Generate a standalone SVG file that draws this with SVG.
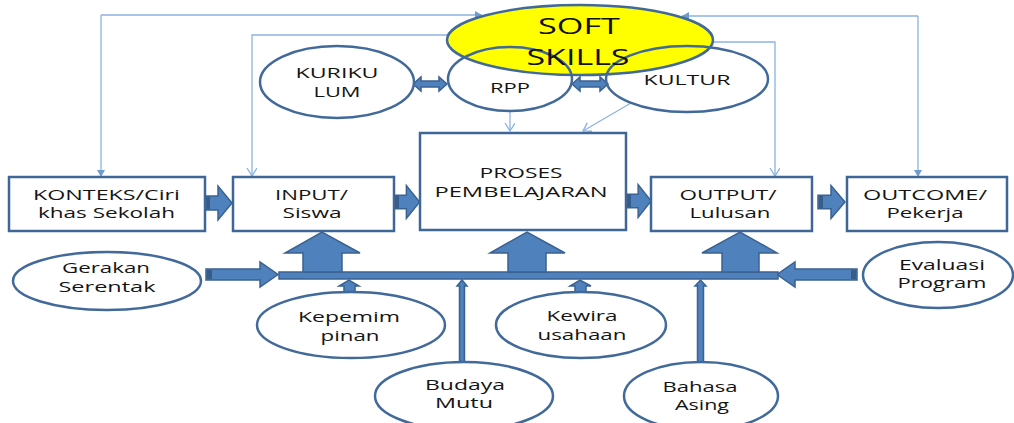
<svg xmlns="http://www.w3.org/2000/svg" width="1014" height="423" viewBox="0 0 1014 423">
<style>
.bg{fill:#ffffff}
.box{fill:#ffffff;stroke:#3e6796;stroke-width:2.5}
.ell{fill:#ffffff;stroke:#41699a;stroke-width:2.5}
.ellf{fill:none;stroke:#41699a;stroke-width:2.5}
.soft{fill:#ffff00;stroke:#41699a;stroke-width:2.5}
.t{font-family:"Open Sans","Liberation Sans",sans-serif;font-size:15px;fill:#141414;text-anchor:middle}
.ts{font-family:"Open Sans","Liberation Sans",sans-serif;font-size:22px;fill:#111;text-anchor:middle}
.thin{fill:none;stroke:#8db3e2;stroke-width:1.3}
.blk{fill:#4f81bd;stroke:#3a6291;stroke-width:1.5}
.dk{fill:#385d8a}
</style>
<defs>
<marker id="tri" markerUnits="userSpaceOnUse" markerWidth="10" markerHeight="10" refX="7" refY="4" orient="auto">
<path d="M0,0 L7,4 L0,8 Z" fill="#6f9bd0"/>
</marker>
<marker id="vee" markerUnits="userSpaceOnUse" markerWidth="12" markerHeight="12" refX="8" refY="5" orient="auto">
<path d="M0,0 L8,5 L0,10" fill="none" stroke="#8db3e2" stroke-width="1.3"/>
</marker>
<path id="ra" d="M0,-7 H13 V-17 L27,0 L13,17 V7 H0 Z"/>
</defs>
<rect class="bg" x="0" y="0" width="1014" height="423"/>

<g id="connectors">
<polyline class="thin" points="101,15 482,15" marker-end="url(#tri)"/>
<polyline class="thin" points="101,15 101,177" marker-end="url(#tri)"/>
<polyline class="thin" points="450,35 252,35 252,176" marker-end="url(#vee)"/>
<polyline class="thin" points="918,16 682,16" marker-end="url(#tri)"/>
<polyline class="thin" points="918,16 918,177" marker-end="url(#tri)"/>
<polyline class="thin" points="713,42 775,42 775,176" marker-end="url(#vee)"/>
<line class="thin" x1="510" y1="111" x2="510" y2="131" marker-end="url(#vee)"/>
<line class="thin" x1="631" y1="103" x2="583" y2="131" marker-end="url(#vee)"/>

<g class="blk">
<use href="#ra" transform="translate(205,203)"/>
<use href="#ra" transform="translate(394,202) scale(0.95,0.97)"/>
<use href="#ra" transform="translate(626,201) scale(0.93,0.97)"/>
<use href="#ra" transform="translate(818,202) scale(1,0.97)"/>
<path d="M206,269 H260 V262 L278,274.5 L260,287 V280 H206 Z"/>
<path d="M857,269 H795 V262 L777,274.5 L795,287 V280 H857 Z"/>
<rect x="279" y="272" width="499" height="7"/>
<path d="M303,272 V253 H285 L322,232 L360,253 H342 V272 Z"/>
<path d="M508,272 V253 H490 L527,232 L565,253 H546 V272 Z"/>
<path d="M722,272 V253 H702 L740,232 L777,253 H759 V272 Z"/>
<path d="M344,293 V286 H339 L349,280 L359,286 H355 V293 Z"/>
<path d="M575,293 V286 H570 L580,280 L591,286 H586 V293 Z"/>
<path d="M459.5,362 V286 H457 L462,280 L467,286 H464.5 V362 Z"/>
<path d="M697.5,362 V286 H695 L700.5,280 L706,286 H703.5 V362 Z"/>
<path d="M413,84 L421,77 V81 H439 V77 L447,84 L439,91 V87 H421 V91 Z"/>
<path d="M572,84 L580,77 V81 H600 V77 L608,84 L600,91 V87 H580 V91 Z"/>
</g>
<g class="dk">
<rect x="206" y="197" width="4" height="12"/>
<rect x="395" y="196" width="4" height="12"/>
<rect x="627" y="195" width="4" height="12"/>
<rect x="819" y="196" width="4" height="12"/>
<rect x="207" y="270" width="5" height="9"/>
<rect x="851" y="270" width="5" height="9"/>
</g>
</g>

<g id="softskills">
<ellipse class="soft" cx="580" cy="40" rx="133" ry="35"/>
</g>
<g id="rpp">
<ellipse class="ellf" cx="510" cy="79" rx="62" ry="32"/>
<text class="t" x="510" y="93" textLength="40" lengthAdjust="spacingAndGlyphs">RPP</text>
</g>
<g id="kultur">
<ellipse class="ellf" cx="687" cy="79" rx="81" ry="33"/>
<text class="t" x="687" y="85" textLength="87" lengthAdjust="spacingAndGlyphs">KULTUR</text>
</g>
<g id="softskills-text">
<text class="ts" x="579" y="34" textLength="82" lengthAdjust="spacingAndGlyphs">SOFT</text>
<text class="ts" x="578" y="65" textLength="103" lengthAdjust="spacingAndGlyphs">SKILLS</text>
</g>
<g id="kurikulum">
<ellipse class="ell" cx="337" cy="82" rx="77" ry="36"/>
<text class="t" x="337" y="78" textLength="83" lengthAdjust="spacingAndGlyphs">KURIKU</text>
<text class="t" x="337" y="97" textLength="47" lengthAdjust="spacingAndGlyphs">LUM</text>
</g>

<g id="konteks">
<rect class="box" x="9" y="177" width="196" height="54"/>
<text class="t" x="106.5" y="200" textLength="147" lengthAdjust="spacingAndGlyphs">KONTEKS/Ciri</text>
<text class="t" x="106.5" y="218" textLength="137" lengthAdjust="spacingAndGlyphs">khas Sekolah</text>
</g>
<g id="input">
<rect class="box" x="233" y="177" width="161" height="54"/>
<text class="t" x="311.5" y="200" textLength="73" lengthAdjust="spacingAndGlyphs">INPUT/</text>
<text class="t" x="312" y="218" textLength="59" lengthAdjust="spacingAndGlyphs">Siswa</text>
</g>
<g id="proses">
<rect class="box" x="420" y="133" width="206" height="97"/>
<text class="t" x="521" y="178" textLength="83" lengthAdjust="spacingAndGlyphs">PROSES</text>
<text class="t" x="521" y="197" textLength="173" lengthAdjust="spacingAndGlyphs">PEMBELAJARAN</text>
</g>
<g id="output">
<rect class="box" x="651" y="177" width="161" height="54"/>
<text class="t" x="728" y="200" textLength="97" lengthAdjust="spacingAndGlyphs">OUTPUT/</text>
<text class="t" x="730" y="218" textLength="81" lengthAdjust="spacingAndGlyphs">Lulusan</text>
</g>
<g id="outcome">
<rect class="box" x="847" y="177" width="160" height="54"/>
<text class="t" x="925" y="200" textLength="124" lengthAdjust="spacingAndGlyphs">OUTCOME/</text>
<text class="t" x="925" y="218" textLength="77" lengthAdjust="spacingAndGlyphs">Pekerja</text>
</g>

<g id="gerakan">
<ellipse class="ell" cx="107" cy="281" rx="94" ry="29"/>
<text class="t" x="106" y="273" textLength="88" lengthAdjust="spacingAndGlyphs">Gerakan</text>
<text class="t" x="107" y="292" textLength="97" lengthAdjust="spacingAndGlyphs">Serentak</text>
</g>
<g id="kepemimpinan">
<ellipse class="ell" cx="351" cy="325" rx="94" ry="33"/>
<text class="t" x="349" y="322" textLength="102" lengthAdjust="spacingAndGlyphs">Kepemim</text>
<text class="t" x="350" y="341" textLength="59" lengthAdjust="spacingAndGlyphs">pinan</text>
</g>
<g id="kewirausahaan">
<ellipse class="ell" cx="581" cy="325" rx="85" ry="33"/>
<text class="t" x="582" y="321" textLength="71" lengthAdjust="spacingAndGlyphs">Kewira</text>
<text class="t" x="582" y="340" textLength="89" lengthAdjust="spacingAndGlyphs">usahaan</text>
</g>
<g id="budaya">
<ellipse class="ell" cx="464" cy="396" rx="89" ry="34"/>
<text class="t" x="465" y="390" textLength="80" lengthAdjust="spacingAndGlyphs">Budaya</text>
<text class="t" x="464" y="408" textLength="58" lengthAdjust="spacingAndGlyphs">Mutu</text>
</g>
<g id="bahasa">
<ellipse class="ell" cx="701" cy="396" rx="77" ry="34"/>
<text class="t" x="700" y="392" textLength="75" lengthAdjust="spacingAndGlyphs">Bahasa</text>
<text class="t" x="702" y="410" textLength="54" lengthAdjust="spacingAndGlyphs">Asing</text>
</g>
<g id="evaluasi">
<ellipse class="ell" cx="938" cy="275" rx="75" ry="33"/>
<text class="t" x="942" y="270" textLength="86" lengthAdjust="spacingAndGlyphs">Evaluasi</text>
<text class="t" x="942" y="288" textLength="89" lengthAdjust="spacingAndGlyphs">Program</text>
</g>
</svg>
